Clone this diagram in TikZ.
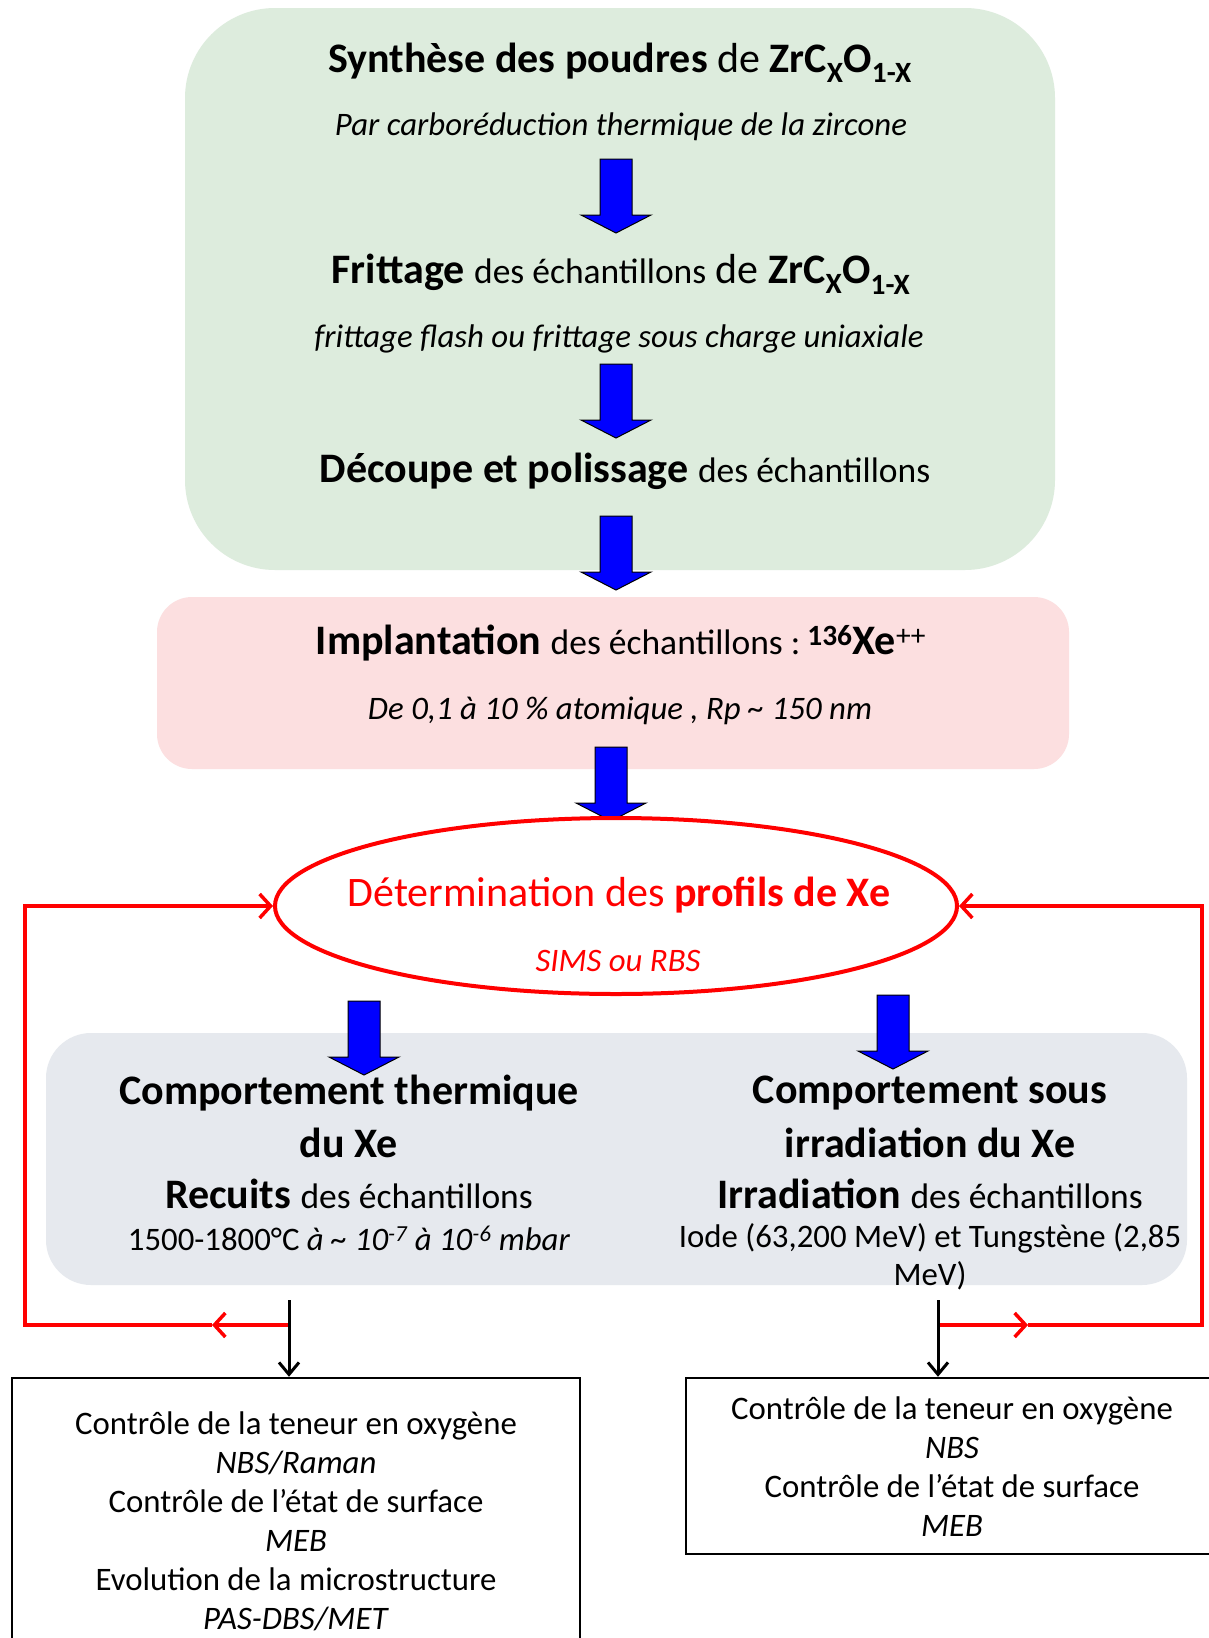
\documentclass[tikz,border=0pt]{standalone}
\usepackage{fontspec}
\setmainfont{Carlito}
\usetikzlibrary{arrows.meta,shapes.geometric}
\definecolor{greenbg}{RGB}{221,236,221}
\definecolor{pinkbg}{RGB}{252,223,224}
\definecolor{graybg}{RGB}{230,233,238}
\definecolor{redln}{RGB}{255,0,0}
\definecolor{bluearr}{RGB}{0,0,255}
\newcommand{\bigf}{\fontsize{42}{50}\selectfont}
\newcommand{\midf}{\fontsize{35.5}{42}\selectfont}
\newcommand{\smf}{\fontsize{32.8}{39}\selectfont}
\begin{document}
\begin{tikzpicture}[x=1pt,y=-1pt,
  txt/.style={inner sep=0pt, anchor=center, align=center},
  bigtxt/.style={txt, font=\bigf},
  smtxt/.style={txt, font=\smf},
  redtxt/.style={text=redln},
  panel/.style={draw=none, inner sep=0pt},
  blockarrow/.pic={\path[draw=black, fill=bluearr, line width=1pt, line join=miter]
     (-16,0) -- (16,0) -- (16,56) -- (35,56) -- (0,74) -- (-35,56) -- (-16,56) -- cycle;},
  redconn/.style={draw=redln, line width=4pt, line join=miter},
  redtip/.style={-{Straight Barb[length=11pt,width=24pt,line width=3.5pt]}},
  blkconn/.style={draw=black, line width=3pt, -{Straight Barb[length=12pt,width=20pt,line width=3pt]}},
  outbox/.style={draw=black, line width=2.5pt, inner sep=0pt}
]
\useasboundingbox (0,0) rectangle (1209,1638);
\clip (0,0) rectangle (1209,1638);
\fill[white] (0,0) rectangle (1209,1638);

% panels
\node[panel, fill=greenbg, rounded corners=90pt, minimum width=870pt, minimum height=562pt] (green) at (620,289) {};
\node[panel, fill=pinkbg, rounded corners=35pt, minimum width=912pt, minimum height=172pt] (pink) at (613,683) {};
\node[panel, fill=graybg, rounded corners=45pt, minimum width=1141pt, minimum height=252pt] (gray) at (616.5,1159) {};

% green texts
\node[bigtxt] (t1) at (620,63) {\textbf{Synthèse des poudres} de \textbf{ZrC\textsubscript{X}O\textsubscript{1-X}}};
\node[smtxt] (t2) at (621,127) {\textit{Par carboréduction thermique de la zircone}};
\node[bigtxt] (t3) at (621,274) {\textbf{Frittage} {\midf des échantillons} de \textbf{ZrC\textsubscript{X}O\textsubscript{1-X}}};
\node[smtxt] (t4) at (619,339) {\textit{frittage flash ou frittage sous charge uniaxiale}};
\node[bigtxt] (t5) at (625,471) {\textbf{Découpe et polissage} {\midf des échantillons}};

\pic (a1) at (616,159) {blockarrow};
\pic (a2) at (616,364) {blockarrow};
\pic (a3) at (616,516) {blockarrow};

% pink texts
\node[bigtxt] (p1) at (621,643) {\textbf{Implantation} {\midf des échantillons :}\,\textbf{\textsuperscript{136}Xe}\textsuperscript{++}};
\node[smtxt] (p2) at (620,711) {\textit{De 0,1 à 10 \% atomique , Rp \textasciitilde{} 150 nm}};

\pic (a4) at (611,747) {blockarrow};

% ellipse
\node[ellipse, draw=redln, line width=4pt, fill=white, minimum width=682pt, minimum height=176pt, inner sep=0pt] (ell) at (616,906) {};
\node[bigtxt, redtxt] (e1) at (619,895) {Détermination des \textbf{profils de Xe}};
\node[smtxt, redtxt] (e2) at (618,961) {\textit{SIMS ou RBS}};

\pic (a5) at (364,1001) {blockarrow};
\pic (a6) at (893,995) {blockarrow};

% gray texts
\node[bigtxt] (g1) at (349,1093) {\textbf{Comportement thermique}};
\node[bigtxt] (g2) at (349,1143) {\textbf{du Xe}};
\node[bigtxt] (g3) at (349,1194) {\textbf{Recuits} {\midf des échantillons}};
\node[smtxt] (g4) at (349,1238) {1500-1800°C \textit{à \textasciitilde{} 10\textsuperscript{-7} à 10\textsuperscript{-6} mbar}};
\node[bigtxt] (h1) at (930,1093) {\textbf{Comportement sous}};
\node[bigtxt] (h2) at (930,1143) {\textbf{irradiation du Xe}};
\node[bigtxt] (h3) at (930,1194) {\textbf{Irradiation} {\midf des échantillons}};
\node[smtxt] (h4) at (930,1238) {Iode (63,200 MeV) et Tungstène (2,85};
\node[smtxt] (h5) at (930,1276) {MeV)};

% bottom boxes
\node[outbox, minimum width=568pt, minimum height=290pt] (lbox) at (296,1523) {};
\node[outbox, minimum width=539pt, minimum height=176pt] (rbox) at (955.5,1466) {};
\node[smtxt] (lt) at (296,1521) {Contrôle de la teneur en oxygène\\ \textit{NBS/Raman}\\ Contrôle de l’état de surface\\ \textit{MEB}\\ Evolution de la microstructure\\ \textit{PAS-DBS/MET}};
\node[smtxt] (rt) at (952,1467) {Contrôle de la teneur en oxygène\\ \textit{NBS}\\ Contrôle de l’état de surface\\ \textit{MEB}};

% connectors
\coordinate (ltop) at (289,1300);
\coordinate (rtop) at (938,1300);
\coordinate (lj) at (289,1325);
\coordinate (lmid) at (212,1325);
\coordinate (lbot) at (25,1325);
\coordinate (rj) at (938,1325);
\coordinate (rmid) at (1028,1325);
\coordinate (rbot) at (1202,1325);

\draw[redconn, redtip] (lj) -- (lmid);
\draw[redconn, redtip] (lmid) -- (lbot) |- (ell.west);
\draw[redconn, redtip] (rj) -- (rmid);
\draw[redconn, redtip] (rmid) -- (rbot) |- (ell.east);

\draw[blkconn] (ltop) -- (ltop |- lbox.north);
\draw[blkconn] (rtop) -- (rtop |- rbox.north);
\end{tikzpicture}
\end{document}
